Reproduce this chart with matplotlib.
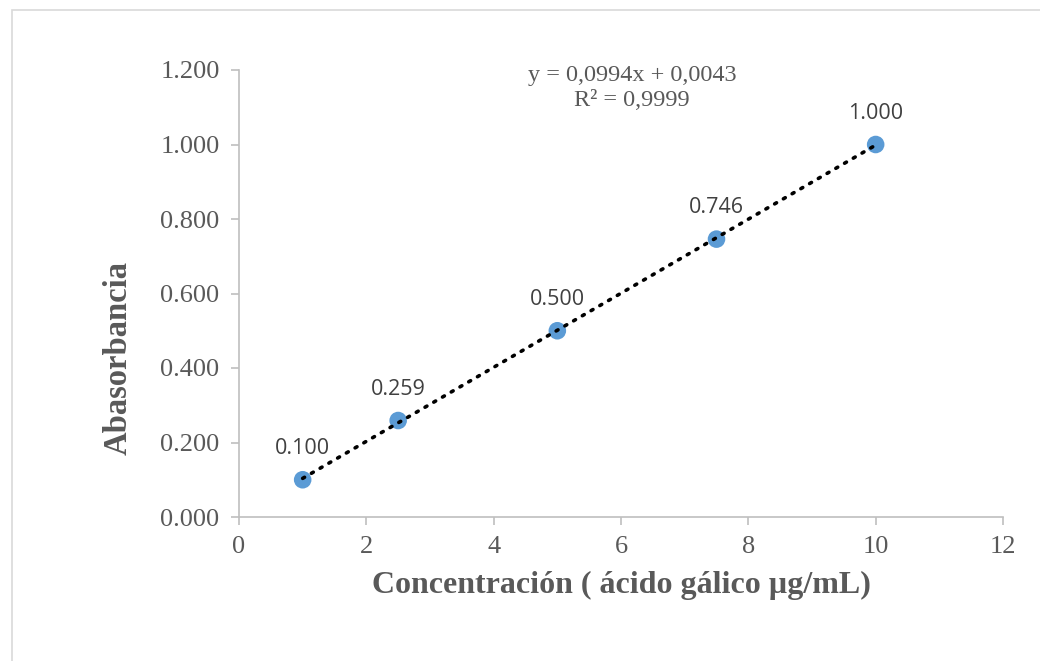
import matplotlib
matplotlib.use("Agg")
import matplotlib.pyplot as plt
from matplotlib.patches import Rectangle
import numpy as np

conc = [1, 2.5, 5, 7.5, 10]
absb = [0.100, 0.259, 0.500, 0.746, 1.000]
labels = ["0.100", "0.259", "0.500", "0.746", "1.000"]
slope, intercept = 0.0994, 0.0043
eq_text = "y = 0,0994x + 0,0043\nR² = 0,9999"
xticks = [0, 2, 4, 6, 8, 10, 12]
yticks = [0.0, 0.2, 0.4, 0.6, 0.8, 1.0, 1.2]

W, H = 1040, 661
fig = plt.figure(figsize=(W/100, H/100), dpi=100)
fig.patches.append(Rectangle((12/W, -0.01), 1.1, 1 - 10/H + 0.01, transform=fig.transFigure,
                             fill=False, edgecolor="#d9d9d9", linewidth=1.2))

ax = fig.add_axes([239/W, 1 - 517/H, (1003 - 239)/W, (517 - 70)/H])
gray = "#bfbfbf"
tc = "#595959"
for s in ["top", "right"]:
    ax.spines[s].set_visible(False)
for s in ["left", "bottom"]:
    ax.spines[s].set_color(gray)
    ax.spines[s].set_linewidth(1.2)
ax.set_xlim(0, 12)
ax.set_ylim(0, 1.2)
ax.set_xticks(xticks)
ax.set_yticks(yticks)
ax.set_xticklabels([str(v) for v in xticks])
ax.set_yticklabels([f"{v:.3f}" for v in yticks])
ax.tick_params(axis="both", colors=gray, labelcolor=tc, length=6, width=1.2, direction="out",
               labelsize=19)
for lab in ax.get_xticklabels() + ax.get_yticklabels():
    lab.set_fontfamily("Liberation Serif")
ax.tick_params(axis="x", pad=8)
ax.tick_params(axis="y", pad=8)

ax.scatter(conc, absb, s=160, color="#5B9BD5", zorder=3, edgecolors="none")
xt = np.array([min(conc), max(conc)])
ax.plot(xt, slope * xt + intercept, color="black", linestyle=(0, (0.6, 2.2)), linewidth=2.6,
        dash_capstyle="round", zorder=4)

for x, y, t in zip(conc, absb, labels):
    ax.annotate(t, (x, y), xytext=(0, 15), textcoords="offset points", ha="center", va="bottom",
                fontsize=15.5, color="#404040", family="Open Sans")

ax.text(632/100, (H - 88)/100, eq_text, transform=fig.dpi_scale_trans, ha="center", va="center",
        fontsize=17.5, color=tc, family="Liberation Serif", linespacing=1.3)

fig.text(118/W, 1 - 358/H, "Abasorbancia", rotation=90, ha="center", va="center",
         fontsize=23.5, fontweight="bold", color=tc, family="Liberation Serif")
fig.text(621/W, 1 - 585/H, "Concentración ( ácido gálico µg/mL)", ha="center", va="center",
         fontsize=23, fontweight="bold", color=tc, family="Liberation Serif")

fig.savefig("out.png", dpi=100, facecolor="white")
